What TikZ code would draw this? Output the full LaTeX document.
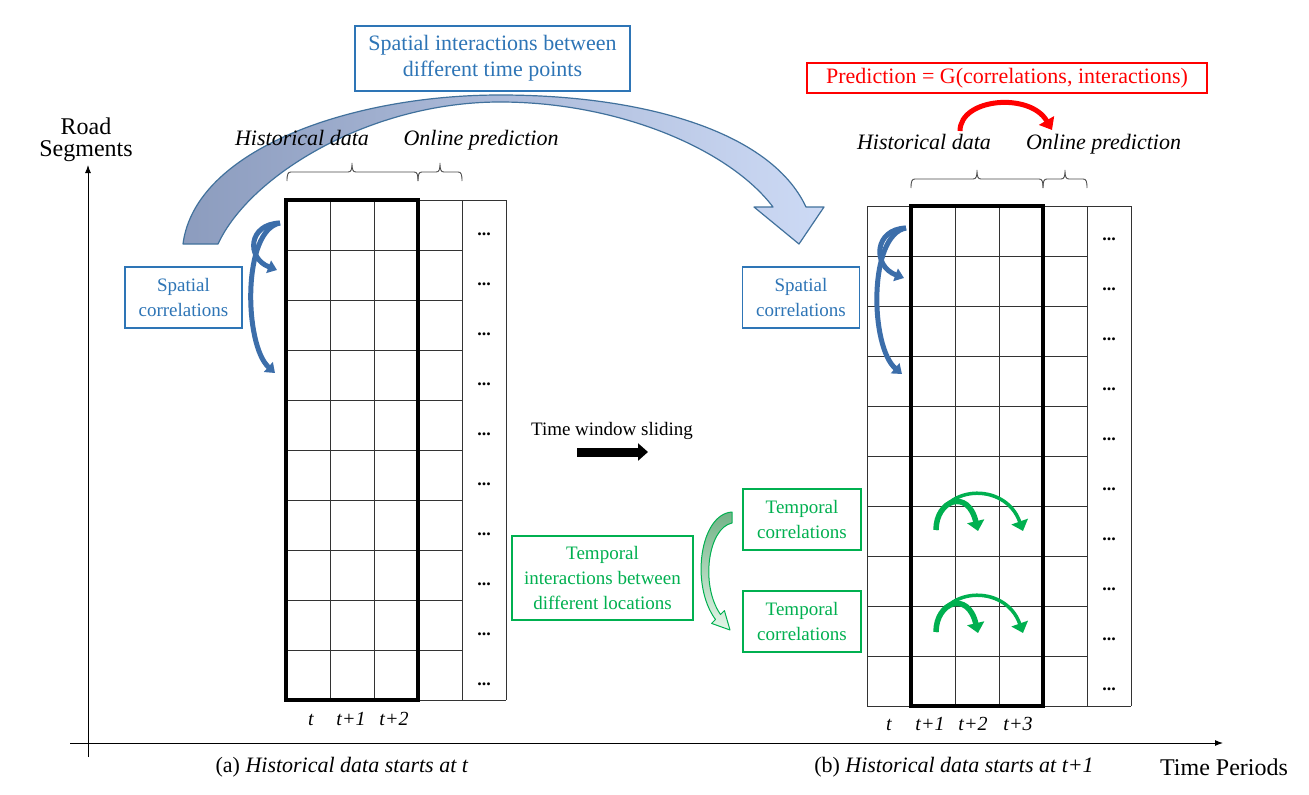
\documentclass[tikz,border=0pt]{standalone}
\usepackage{fontspec}
\setmainfont{Liberation Serif}
\usetikzlibrary{arrows.meta}

\definecolor{boxblue}{RGB}{46,117,182}
\definecolor{edgeblue}{RGB}{65,113,156}
\definecolor{arcblue}{RGB}{60,110,170}
\definecolor{darkarc}{RGB}{140,156,190}
\definecolor{lightarc}{RGB}{205,218,245}
\definecolor{tgreen}{RGB}{0,176,80}
\definecolor{dgreen}{RGB}{14,140,62}
\definecolor{shadegreen}{RGB}{115,178,135}
\definecolor{palegreen}{RGB}{228,246,232}
\definecolor{pred}{RGB}{255,0,0}

% brace over some columns: left x, right x, foot y, tip x
\newcommand{\colbrace}[4]{%
  \draw[bracepen] (#1,#3) .. controls (#1,#3-7) and (#1+1,#3-9) .. (#1+4,#3-9)
    -- (#4-4,#3-9) .. controls (#4-1,#3-9) and (#4,#3-11) .. (#4,#3-18)
    .. controls (#4,#3-11) and (#4+1,#3-9) .. (#4+4,#3-9)
    -- (#2-4,#3-9) .. controls (#2-1,#3-9) and (#2,#3-7) .. (#2,#3);}

\begin{document}
\begin{tikzpicture}[x=1pt,y=-1pt,
  gridline/.style={line width=1pt, black!80},
  window/.style={line width=3.6pt, black},
  bracepen/.style={line width=0.9pt, black!70},
  toplabel/.style={anchor=base, inner sep=0pt, font=\fontsize{22}{26}\selectfont\itshape},
  tlabel/.style={anchor=base, inner sep=0pt, font=\fontsize{20}{24}\selectfont\itshape},
  dots/.style={anchor=base, inner sep=0pt, font=\fontsize{18}{20}\selectfont\bfseries},
  caption/.style={anchor=base, inner sep=0pt, font=\fontsize{22}{26}\selectfont},
  axislabel/.style={inner sep=0pt, align=center, font=\fontsize{24}{22}\selectfont},
  bluebox/.style={draw=boxblue, line width=1.4pt, text=boxblue, align=center, inner sep=0pt, font=\fontsize{19}{25}\selectfont},
  greenbox/.style={draw=tgreen, line width=1.4pt, text=tgreen, align=center, inner sep=0pt, font=\fontsize{19}{25}\selectfont},
  spatialarrow/.style={arcblue, line width=5pt, -{Triangle[length=9pt,width=13pt]}},
  temporalarrow/.style={tgreen, -{Triangle[length=10pt,width=17pt]}},
]
\useasboundingbox[fill=white] (0,0) rectangle (1309,795);

% axes
\coordinate (yfoot) at (88,757);
\coordinate (ytop) at (88,165);
\coordinate (xfoot) at (70,743);
\coordinate (xtip) at (1223,743);
\draw[line width=1pt, -{Latex[length=8pt,width=6pt]}] (yfoot) -- (ytop);
\draw[line width=1pt, -{Latex[length=8pt,width=6pt]}] (xfoot) -- (xtip);
\node[axislabel] (roadlab) at (86,140) {Road\\Segments};
\node[caption, font=\fontsize{24}{28}\selectfont] (timelab) at (1224,775) {Time Periods};

% big arc from the left window to the right window
\shadedraw[left color=darkarc, right color=lightarc, draw=edgeblue, line width=1.2pt, line join=round]
  (183,244) .. controls (195,150) and (350,95) .. (500,95)
  .. controls (640,95) and (770,130) .. (806,207)
  -- (824,207) -- (799,244) -- (754,207) -- (773,207)
  .. controls (730,150) and (620,102) .. (500,102)
  .. controls (370,102) and (250,175) .. (218,244) -- cycle;
\node[bluebox, minimum width=275pt, minimum height=65pt, font=\fontsize{22}{26}\selectfont] (interbox) at (492.5,58.5) {Spatial interactions between\\different time points};

% left grid, window starts at t
\foreach \r in {0,...,10}
  \draw[gridline] (286,200+50*\r) -- (462,200+50*\r);
\foreach \c in {330,374,418,462,506}
  \draw[gridline] (\c,200) -- (\c,700);
\draw[gridline] (462,200) -- (506,200) (462,700) -- (506,700);
\draw[window] (286,200) rectangle (418,700);
\foreach \r in {0,...,9}
  \node[dots] (dotsa\r) at (484,235+50*\r) {...};
\foreach \x/\t [count=\i] in {311/t, 351/t+1, 394/t+2}
  \node[tlabel] (tla\i) at (\x,725) {\t};

% right grid, window starts at t+1
\foreach \r in {0,...,10}
  \draw[gridline] (867,206+50*\r) -- (1087,206+50*\r);
\foreach \c in {867,955,999,1087,1131}
  \draw[gridline] (\c,206) -- (\c,706);
\draw[gridline] (1087,206) -- (1131,206) (1087,706) -- (1131,706);
\draw[window] (911,206) rectangle (1043,706);
\foreach \r in {0,...,9}
  \node[dots] (dotsb\r) at (1109,240+50*\r) {...};
\foreach \x/\t [count=\i] in {889/t, 930/t+1, 973/t+2, 1018/t+3}
  \node[tlabel] (tlb\i) at (\x,730) {\t};

% braces and labels above the grids
\colbrace{287}{418}{181}{352}
\colbrace{418}{462}{181}{440}
\colbrace{911}{1043}{188}{977}
\colbrace{1043}{1087}{188}{1065}
\node[toplabel] (hista) at (302,145) {Historical data};
\node[toplabel] (onlinea) at (481,145) {Online prediction};
\node[toplabel] (histb) at (924,149) {Historical data};
\node[toplabel] (onlineb) at (1103.5,149) {Online prediction};

% prediction
\node[draw=pred, line width=1.4pt, text=pred, inner sep=0pt, minimum width=400pt, minimum height=30pt, font=\fontsize{22}{26}\selectfont] (predbox) at (1007,78) {Prediction = G(correlations, interactions)};
\coordinate (predfrom) at (960,131);
\coordinate (predto) at (1052,130);
\draw[pred, line width=5pt, -{Triangle[length=11pt,width=17pt]}] (predfrom) .. controls (960,98) and (1030,92) .. (predto);

% spatial correlations
\node[bluebox, minimum width=117pt, minimum height=61pt] (spatiala) at (183.5,297.5) {Spatial\\correlations};
\node[bluebox, minimum width=117pt, minimum height=61pt] (spatialb) at (801,297.5) {Spatial\\correlations};
\coordinate (sa0) at (280,223);
\coordinate (sa1) at (277,270);
\coordinate (sa2) at (275,373);
\draw[spatialarrow] (sa0) .. controls (248,224) and (246,258) .. (sa1);
\draw[spatialarrow] (sa0) .. controls (242,230) and (244,345) .. (sa2);
\coordinate (sb0) at (906,228);
\coordinate (sb1) at (904,278);
\coordinate (sb2) at (902,374);
\draw[spatialarrow] (sb0) .. controls (874,229) and (872,266) .. (sb1);
\draw[spatialarrow] (sb0) .. controls (868,235) and (870,347) .. (sb2);

% time window sliding
\node[caption, font=\fontsize{19}{22}\selectfont] (slidelab) at (612,435) {Time window sliding};
\coordinate (slidefrom) at (577,452);
\coordinate (slideto) at (648,452);
\draw[line width=9pt, -{Triangle[length=10pt,width=17pt]}] (slidefrom) -- (slideto);

% temporal correlations
\node[greenbox, minimum width=181pt, minimum height=84pt] (interloc) at (602.5,578) {Temporal\\interactions between\\different locations};
\node[greenbox, minimum width=118pt, minimum height=61pt] (tempa) at (802,519.5) {Temporal\\correlations};
\node[greenbox, minimum width=118pt, minimum height=61pt] (tempb) at (802,621.5) {Temporal\\correlations};
\shadedraw[top color=shadegreen, bottom color=palegreen, draw=tgreen, line width=1pt, line join=round]
  (732,512) .. controls (700,514) and (690,585) .. (715.5,619.5)
  -- (711.6,623.4) -- (730,630) -- (724.4,610.6) -- (720.5,614.5)
  .. controls (700,585) and (708,528) .. (732,523) -- cycle;
\foreach \dy/\k in {0/1,102/2} {
  \coordinate (gs\k) at (936,530+\dy);
  \coordinate (gm\k) at (978,531+\dy);
  \coordinate (gl\k) at (1023,531+\dy);
  \draw[temporalarrow, line width=3.5pt] (gs\k) .. controls (938,485+\dy) and (1005,480+\dy) .. (gl\k);
  \draw[temporalarrow, line width=5.5pt] (gs\k) .. controls (936,500+\dy) and (968,488+\dy) .. (gm\k);
}

% captions
\node[caption] (capa) at (342,772) {(a) \textit{Historical data starts at t}};
\node[caption] (capb) at (954,772) {(b) \textit{Historical data starts at t+1}};
\end{tikzpicture}
\end{document}
